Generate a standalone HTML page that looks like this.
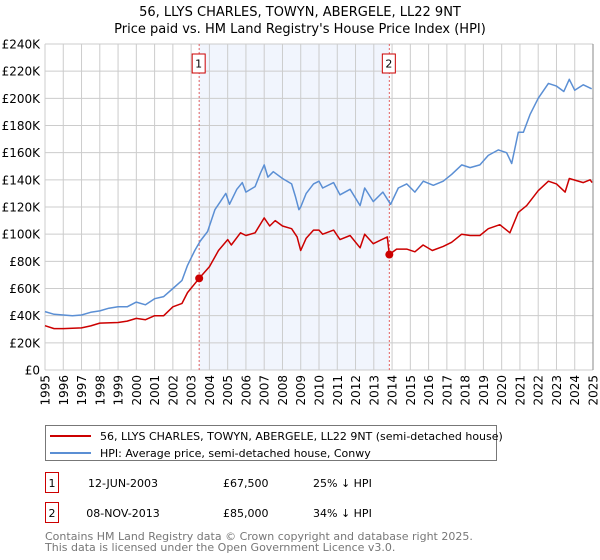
<!DOCTYPE html>
<html><head><meta charset="utf-8"><style>
body{margin:0;background:#fff;font-family:"Liberation Sans","DejaVu Sans",sans-serif;}
svg{display:block}
text{font-family:"DejaVu Sans","Liberation Sans",sans-serif;}
</style></head><body>
<svg id="chart" width="600" height="560" xmlns="http://www.w3.org/2000/svg"></svg>
<script>
const hpiYears=[1995,1995.5,1996,1996.5,1997,1997.5,1998,1998.5,1999,1999.5,2000,2000.5,2001,2001.5,2002,2002.5,2002.8,2003.2,2003.5,2003.9,2004.3,2004.6,2004.9,2005.1,2005.5,2005.8,2006.0,2006.5,2006.8,2007.0,2007.2,2007.5,2008.0,2008.5,2008.7,2008.9,2009.0,2009.3,2009.7,2010.0,2010.2,2010.8,2011.15,2011.7,2012.25,2012.5,2012.97,2013.5,2013.92,2014.34,2014.8,2015.25,2015.71,2016.26,2016.8,2017.26,2017.81,2018.27,2018.81,2019.27,2019.82,2020.27,2020.55,2020.91,2021.19,2021.55,2022.0,2022.56,2023.0,2023.4,2023.7,2024.0,2024.47,2024.93];
const hpiValues=[43,41,40.5,40,40.5,42.5,43.5,45.5,46.6,46.5,50,48,52.5,54,60,66,77,88,95,102,118,124,130,122,133,138,131,135,145,151,142,146,141,137,128,118,120,130,137,139,134,138,129,133,121,134,124,131,122,134,137,131,139,136,139,144,151,149,151,158,162,160,152,175,175,188,200,211,209,205,214,206,210,207];
const ppYears=[1995,1995.5,1996,1997,1997.5,1998,1999,1999.5,2000,2000.5,2001,2001.5,2002,2002.5,2002.8,2003.44,2004,2004.5,2005,2005.2,2005.7,2006,2006.5,2007,2007.3,2007.6,2008,2008.5,2008.8,2009.0,2009.3,2009.7,2010.0,2010.2,2010.8,2011.15,2011.7,2012.25,2012.5,2012.97,2013.74,2013.85,2014.25,2014.8,2015.25,2015.7,2016.2,2016.8,2017.26,2017.81,2018.27,2018.81,2019.27,2019.9,2020.45,2020.91,2021.37,2022.0,2022.56,2023.0,2023.47,2023.7,2024.47,2024.84,2024.95];
const ppValues=[32.6,30.5,30.5,31,32.5,34.5,35,36,38,37,40,40,46.5,49,57,67.5,76,88,96,92,101,99,101,112,106,110,106,104,98,88,97,103,103,100,103,96,99,90,100,93,98,85,89,89,87,92,88,91,94,100,99,99,104,107,101,116,121,132,139,137,131,141,138,140,138];
const yTicks=[0,20,40,60,80,100,120,140,160,180,200,220,240];
const yTickLabels=["£0","£20K","£40K","£60K","£80K","£100K","£120K","£140K","£160K","£180K","£200K","£220K","£240K"];
const xTicks=[1995,1996,1997,1998,1999,2000,2001,2002,2003,2004,2005,2006,2007,2008,2009,2010,2011,2012,2013,2014,2015,2016,2017,2018,2019,2020,2021,2022,2023,2024,2025];
const saleYears=[2003.44,2013.85];
const saleValues=[67.5,85];
const saleLabels=["1","2"];

const NS="http://www.w3.org/2000/svg";
const svg=document.getElementById('chart');
const L=45,R=593,T=44,B=370;
const xs=y=>L+(y-1995)/30*(R-L);
const ys=v=>B-v/240*(B-T);
function mk(tag,attrs,parent){const e=document.createElementNS(NS,tag);for(const k in attrs)e.setAttribute(k,attrs[k]);(parent||svg).appendChild(e);return e;}

let t=mk('text',{x:300,y:16,'text-anchor':'middle','font-size':13,fill:'#000'});t.textContent="56, LLYS CHARLES, TOWYN, ABERGELE, LL22 9NT";


t=mk('text',{x:300,y:33,'text-anchor':'middle','font-size':13,fill:'#000'});t.textContent="Price paid vs. HM Land Registry's House Price Index (HPI)";



let sh=mk('rect',{x:xs(saleYears[0]),y:T,width:xs(saleYears[1])-xs(saleYears[0]),height:B-T,fill:'#eef3fc',opacity:0.8});



yTicks.forEach((v,i)=>{
  let g=mk('line',{x1:L,x2:R,y1:ys(v),y2:ys(v),stroke:'#ccc','stroke-width':1});
  
  
  let l=mk('text',{x:40,y:ys(v)+4.5,'text-anchor':'end','font-size':12,fill:'#000'});l.textContent=yTickLabels[i];
  
  
});
xTicks.forEach(y=>{
  let g=mk('line',{x1:xs(y),x2:xs(y),y1:T,y2:B,stroke:'#ccc','stroke-width':1});
  
  
  const lx=xs(y)+4.5, ly=B+5;
  let l=mk('text',{x:lx,y:ly,'text-anchor':'end','font-size':12,fill:'#000',transform:'rotate(-90 '+lx+' '+ly+')'});l.textContent=y;
  
  
});
let ax=mk('line',{x1:R,x2:R,y1:T,y2:B,stroke:'#888','stroke-width':1});



saleYears.forEach((y,i)=>{
  let d=mk('line',{x1:xs(y),x2:xs(y),y1:T,y2:B,stroke:'#e06060','stroke-width':1,'stroke-dasharray':'2,2'});
  
  
  let b=mk('rect',{x:xs(y)-7,y:54,width:13,height:19,fill:'#fff',stroke:'#c00','stroke-width':1});
  
  
  let tx=mk('text',{x:xs(y)-0.5,y:67.5,'text-anchor':'middle','font-size':11,fill:'#000'});tx.textContent=saleLabels[i];
  
  
});

function path(xa,va,color,name){
  const d=xa.map((y,i)=>(i?'L':'M')+xs(y).toFixed(1)+','+ys(va[i]).toFixed(1)).join('');
  let p=mk('path',{d:d,fill:'none',stroke:color,'stroke-width':1.5,'stroke-linejoin':'round'});
  
  
}
path(hpiYears,hpiValues,'#5b8fd4','hpi-line');
path(ppYears,ppValues,'#cc0000','price-paid-line');
saleYears.forEach((y,i)=>{
  let c=mk('circle',{cx:xs(y),cy:ys(saleValues[i]),r:4,fill:'#cc0000'});
  
  
});

let lg=mk('rect',{x:45.5,y:425.5,width:451,height:35,fill:'#fff',stroke:'#777','stroke-width':1});


let l1=mk('line',{x1:50,x2:91,y1:436,y2:436,stroke:'#cc0000','stroke-width':2});


let lt=mk('text',{x:100,y:440,'font-size':11,fill:'#000'});lt.textContent="56, LLYS CHARLES, TOWYN, ABERGELE, LL22 9NT (semi-detached house)";


let l2=mk('line',{x1:50,x2:91,y1:453,y2:453,stroke:'#5b8fd4','stroke-width':2});


lt=mk('text',{x:100,y:457,'font-size':11,fill:'#000'});lt.textContent="HPI: Average price, semi-detached house, Conwy";



const rows=[["1","12-JUN-2003","£67,500","25% \u2193 HPI"],["2","08-NOV-2013","£85,000","34% \u2193 HPI"]];
rows.forEach((r,i)=>{
  const cy=483+i*30;
  let b=mk('rect',{x:45.5,y:cy-10.5,width:13,height:20,fill:'#fff',stroke:'#c00','stroke-width':1});
  
  
  let a=mk('text',{x:52,y:cy+4,'text-anchor':'middle','font-size':11});a.textContent=r[0];
  
  
  let d=mk('text',{x:123,y:cy+4,'text-anchor':'middle','font-size':11});d.textContent=r[1];
  
  
  let p=mk('text',{x:223,y:cy+4,'font-size':11});p.textContent=r[2];
  
  
  let h=mk('text',{x:313,y:cy+4,'font-size':11});h.textContent=r[3];
  
  
});
let f=mk('text',{x:45,y:540,'font-size':11,fill:'#777'});f.textContent="Contains HM Land Registry data © Crown copyright and database right 2025.";


f=mk('text',{x:45,y:551,'font-size':11,fill:'#777'});f.textContent="This data is licensed under the Open Government Licence v3.0.";


</script>
</body></html>
